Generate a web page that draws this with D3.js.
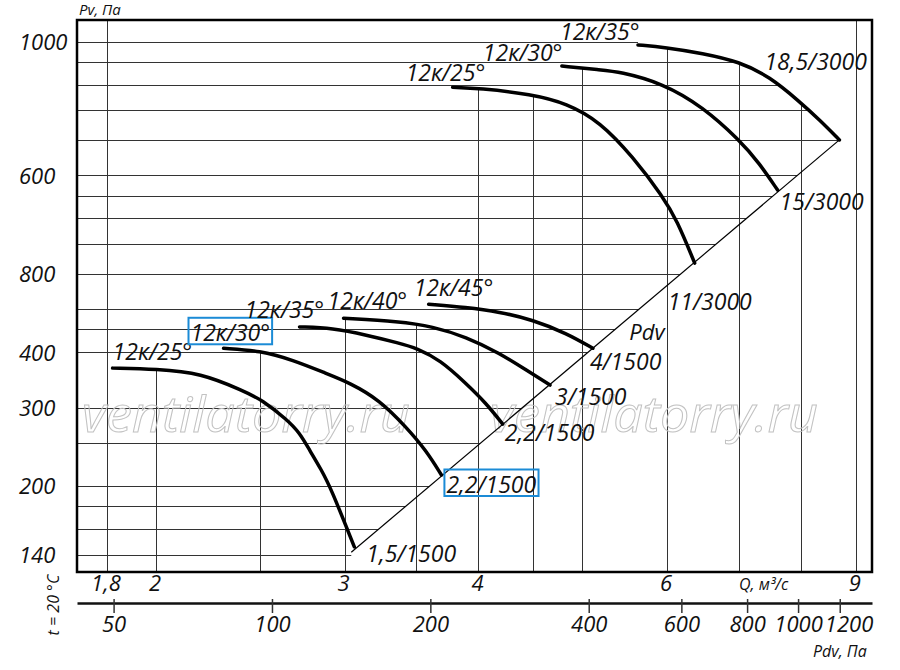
<!DOCTYPE html>
<html>
<head>
<meta charset="utf-8">
<script src="https://cdn.jsdelivr.net/npm/d3@7"></script>
<style>
  body { margin: 0; background: #fff; }
  svg text { font-family: "Open Sans", "DejaVu Sans", sans-serif; font-style: italic; fill: #111; }
</style>
</head>
<body>
<div id="chart"></div>
<script>
// Axis ticks and grid values
const qTicks = [1.8, 2, 3, 4, 6, 9];
const qTickLabels = ["1,8", "2", "3", "4", "6", "9"];
const qGrid = [1.8, 2, 2.5, 3, 3.5, 4, 4.5, 5, 6, 7, 8, 9];
const pTicks = [140, 200, 300, 400, 600, 1000, 2000];
const pTickLabels = ["140", "200", "300", "400", "800", "600", "1000"]; // printed as on the original sheet
const pGrid = [140, 160, 180, 200, 250, 300, 400, 450, 500, 600, 700, 800, 900, 1000, 1200, 1400, 1600, 1800, 2000];
const pdvTicks = [50, 100, 200, 400, 600, 800, 1000, 1200];

// Fan curves, points are [Q m3/s, Pv Pa]
const c25_1500 = [[1.82, 369], [2.0, 367], [2.2, 360], [2.41, 328], [2.51, 313], [2.65, 282], [2.72, 264], [2.78, 241], [2.85, 218], [2.91, 198], [3.06, 146]];
const c30_1500 = [[2.31, 409], [2.5, 404], [2.68, 385], [2.88, 359], [3.03, 342], [3.23, 313], [3.42, 272], [3.57, 241], [3.69, 212]];
const c35_1500 = [[2.72, 457], [2.92, 454], [3.14, 438], [3.37, 420], [3.5, 409], [3.68, 385], [3.89, 341], [4.06, 308], [4.21, 276]];
const c40_1500 = [[2.99, 478], [3.37, 470], [3.62, 458], [3.89, 434], [4.18, 399], [4.43, 365], [4.66, 338]];
const c45_1500 = [[3.59, 514], [3.89, 506], [4.18, 494], [4.49, 474], [4.83, 442], [5.11, 409]];
const c25_3000 = [[3.78, 1583], [4.0, 1575], [4.48, 1527], [4.83, 1457], [5.19, 1324], [5.57, 1103], [5.94, 898], [6.12, 795], [6.36, 636]];
const c30_3000 = [[4.78, 1768], [5.19, 1732], [5.41, 1717], [5.94, 1616], [6.47, 1431], [7.0, 1205], [7.31, 1067], [7.6, 929]];
const c35_3000 = [[5.63, 1972], [5.97, 1948], [6.47, 1888], [7.0, 1808], [7.47, 1673], [7.97, 1469], [8.32, 1336], [8.68, 1205]];

const bladeLabels = ["12к/25°", "12к/30°", "12к/35°", "12к/40°", "12к/45°", "12к/25°", "12к/30°", "12к/35°"];
const motorLabels = ["1,5/1500", "2,2/1500", "2,2/1500", "3/1500", "4/1500", "11/3000", "15/3000", "18,5/3000"];

// Dynamic pressure line (ends of the curves)
const pdvLine = [[3.04, 142], [8.68, 1205]];

(function() {
    const curves = [c25_1500, c30_1500, c35_1500, c40_1500, c45_1500, c25_3000, c30_3000, c35_3000];

    const margin = { top: 20, right: 28, bottom: 98, left: 77 },
        width = 900 - margin.left - margin.right,
        height = 670 - margin.top - margin.bottom;

    const root = d3.select("#chart")
        .append("svg")
        .attr("width", 900)
        .attr("height", 670);

    const svg = root.append("g")
        .attr("transform", `translate(${margin.left},${margin.top})`);

    // log scales, domains fitted to the printed grid
    const x = d3.scaleLog().domain([1.686, 9.31]).range([0, width]);
    const y = d3.scaleLog().domain([128.2, 2244]).range([height, 0]);
    const pdv = d3.scaleLog().domain([42.6, 1382]).range([0, width]);

    const line = d3.line()
        .x(d => x(d[0]))
        .y(d => y(d[1]))
        .curve(d3.curveBasis);

    // clip paths: horizontal grid stops at outer curve / Pdv line,
    // vertical grid starts at the top envelope of the curves
    const defs = root.append("defs");
    const outer = c35_3000;
    const px0 = x(pdvLine[0][0]), py0 = y(pdvLine[0][1]);
    const hPath = `M0,0L${x(outer[0][0])},0` + line(outer).replace(/^M/, "L") +
        `L${px0},${py0}L${px0},${height}L0,${height}Z`;
    defs.append("clipPath").attr("id", "hclip")
        .append("path").attr("d", hPath);

    const vclip = defs.append("clipPath").attr("id", "vclip");
    curves.forEach(c => {
        const xs = x(c[0][0]), xe = x(c[c.length - 1][0]);
        vclip.append("path")
            .attr("d", line(c) + `L${xe},${height}L${xs},${height}Z`);
    });
    vclip.append("rect").attr("x", -2).attr("y", 0)
        .attr("width", x(c25_1500[0][0]) + 2).attr("height", height);
    vclip.append("rect").attr("x", x(c35_3000[c35_3000.length - 1][0])).attr("y", 0)
        .attr("width", width).attr("height", height);

    // grid
    svg.append("g")
        .attr("clip-path", "url(#hclip)")
        .selectAll("line")
        .data(pGrid)
        .enter().append("line")
        .attr("x1", 0).attr("x2", width)
        .attr("y1", d => y(d)).attr("y2", d => y(d))
        .attr("stroke", "#333").attr("stroke-width", 1)
        .attr("shape-rendering", "crispEdges");

    svg.append("g")
        .attr("clip-path", "url(#vclip)")
        .selectAll("line")
        .data(qGrid)
        .enter().append("line")
        .attr("y1", 0).attr("y2", height)
        .attr("x1", d => x(d)).attr("x2", d => x(d))
        .attr("stroke", "#333").attr("stroke-width", 1)
        .attr("shape-rendering", "crispEdges");

    // watermark
    [5, 413].forEach(wx => {
        svg.append("text")
            .attr("x", wx).attr("y", 412)
            .attr("font-size", 50)
            .attr("textLength", 328)
            .attr("lengthAdjust", "spacingAndGlyphs")
            .style("fill", "none")
            .style("stroke", "#c2c2c2")
            .style("stroke-width", 1)
            .text("ventilatorry.ru");
    });

    // Pdv line
    svg.append("path")
        .datum(pdvLine)
        .attr("fill", "none")
        .attr("stroke", "#000")
        .attr("stroke-width", 1.2)
        .attr("d", d3.line().x(d => x(d[0])).y(d => y(d[1])));

    // fan curves
    svg.selectAll(".curve")
        .data(curves)
        .enter().append("path")
        .attr("class", "curve")
        .attr("fill", "none")
        .attr("stroke", "#000")
        .attr("stroke-width", 3.5)
        .attr("stroke-linecap", "round")
        .attr("d", line);

    // curve labels (offsets in px from curve start / end)
    const startOff = [[0, -8], [-33, -7], [-55, -9], [-16, -9], [-15, -8], [-47, -6], [-79, -5], [-78, -5]];
    const endOff = [[12, 15], [5, 18], [2, 17], [5, 20], [-3, 22], [-27, 47], [2, 20], [-75, -70]];
    const boxed = [1];

    const addBox = (t, bx, by) => {
        const bb = t.node().getBBox();
        svg.append("rect")
            .attr("x", bb.x - 2).attr("y", by - 23.5)
            .attr("width", bb.width + 4).attr("height", 26.5)
            .attr("fill", "none")
            .attr("stroke", "#1b8bd6")
            .attr("stroke-width", 2);
    };

    curves.forEach((c, i) => {
        const s = c[0], e = c[c.length - 1];
        const bx = x(s[0]) + startOff[i][0], by = y(s[1]) + startOff[i][1];
        const t1 = svg.append("text")
            .attr("x", bx).attr("y", by)
            .attr("font-size", 23)
            .text(bladeLabels[i]);
        if (boxed.includes(i)) addBox(t1, bx, by);

        const ex = x(e[0]) + endOff[i][0], ey = y(e[1]) + endOff[i][1];
        const t2 = svg.append("text")
            .attr("x", ex).attr("y", ey)
            .attr("font-size", 23)
            .text(motorLabels[i]);
        if (boxed.includes(i)) addBox(t2, ex, ey);
    });

    svg.append("text")
        .attr("x", (x(pdvLine[0][0]) + x(pdvLine[1][0])) / 2 + 34)
        .attr("y", (y(pdvLine[0][1]) + y(pdvLine[1][1])) / 2 - 6)
        .attr("font-size", 22)
        .text("Pdv");

    // Y labels
    svg.selectAll(".ylab")
        .data(pTicks)
        .enter().append("text")
        .attr("class", "ylab")
        .attr("x", -58)
        .attr("y", d => y(d) + 8)
        .attr("font-size", 22)
        .text((d, i) => pTickLabels[i]);

    // Q axis
    const qAxis = svg.append("g")
        .attr("transform", `translate(0,${height})`)
        .call(d3.axisBottom(x).tickValues(qTicks).tickFormat((d, i) => qTickLabels[i]).tickSize(0));
    qAxis.select(".domain").remove();
    qAxis.selectAll("text")
        .attr("y", 19).attr("dy", 0).attr("dx", -2)
        .attr("font-size", 22);

    // Pdv axis
    const pAxis = svg.append("g")
        .attr("transform", `translate(0,${height + 31})`)
        .call(d3.axisBottom(pdv).tickValues(pdvTicks).tickFormat(d3.format("d")).tickSizeOuter(0));
    pAxis.select(".domain").attr("stroke-width", 2.5).attr("stroke", "#111");
    pAxis.selectAll(".tick line")
        .attr("y1", -4).attr("y2", 10)
        .attr("stroke", "#333").attr("stroke-width", 1.5);
    let prevRight = -Infinity;
    pAxis.selectAll(".tick text")
        .attr("y", 29).attr("dy", 0)
        .attr("font-size", 22)
        .each(function(d) {
            const w = this.getComputedTextLength();
            const cx = pdv(d);
            let shift = 0;
            if (cx - w / 2 < prevRight + 2) shift = prevRight + 2 - (cx - w / 2);
            d3.select(this).attr("x", shift);
            prevRight = cx + shift + w / 2;
        });

    // axis titles
    svg.append("text").attr("x", 2).attr("y", -5).attr("font-size", 15).text("Pv, Па");
    svg.append("text").attr("x", 662).attr("y", height + 18).attr("font-size", 16).text("Q, м³/с");
    svg.append("text").attr("x", 736).attr("y", height + 85).attr("font-size", 16).text("Pdv, Па");
    svg.append("text")
        .attr("transform", `translate(-18,${height + 33}) rotate(-90)`)
        .attr("text-anchor", "middle")
        .attr("font-size", 16)
        .text("t = 20 °C");

    // frame
    svg.append("rect")
        .attr("width", width).attr("height", height)
        .attr("fill", "none")
        .attr("stroke", "#000")
        .attr("stroke-width", 2.5);
})();
</script>
</body>
</html>
